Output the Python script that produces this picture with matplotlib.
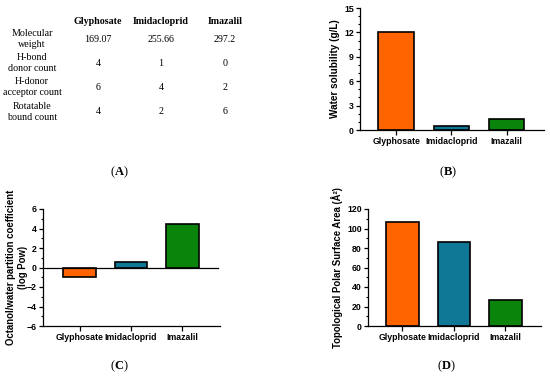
import matplotlib
matplotlib.use("Agg")
import matplotlib.pyplot as plt
from matplotlib.ticker import MultipleLocator

plt.rcParams['mathtext.fontset'] = 'custom'
plt.rcParams['mathtext.rm'] = 'Liberation Serif'
plt.rcParams['mathtext.bf'] = 'Liberation Serif:bold'

compounds = ["Glyphosate", "Imidacloprid", "Imazalil"]
colors = ["#FF6400", "#0E7896", "#0A840A"]

table_rows = ["Molecular\nweight", "H-bond\ndonor count", "H-donor\nacceptor count", "Rotatable\nbound count"]
table_values = [["169.07", "255.66", "297.2"],
                ["4", "1", "0"],
                ["6", "4", "2"],
                ["4", "2", "6"]]

water_solubility = [12.0, 0.5, 1.35]
log_pow = [-1.0, 0.55, 4.5]
tpsa = [106.6, 86.0, 26.4]

W, H = 550, 377
fig = plt.figure(figsize=(W / 100, H / 100), dpi=100)

def px_axes(x0, y0, x1, y1):
    return fig.add_axes([x0 / W, 1 - y1 / H, (x1 - x0) / W, (y1 - y0) / H])

sans = 'Liberation Sans'
serif = 'Liberation Serif'

def style(ax, ylabel, labelsize=7.0, labelpad=3):
    for s in ['top', 'right']:
        ax.spines[s].set_visible(False)
    for s in ['left', 'bottom']:
        ax.spines[s].set_linewidth(0.9)
    ax.tick_params(axis='both', which='major', length=3, width=0.9, labelsize=6.3, pad=1.5)
    ax.tick_params(axis='y', which='minor', length=1.8, width=0.8)
    ax.tick_params(axis='x', which='major', length=3.5)
    ax.set_xticks(range(len(compounds)))
    ax.set_xticklabels(compounds, fontfamily=sans, fontweight='bold')
    for lab in ax.get_yticklabels():
        lab.set_fontfamily(sans)
        lab.set_fontweight('bold')
    ax.set_ylabel(ylabel, fontfamily=sans, fontweight='bold', fontsize=labelsize, labelpad=labelpad)

# Panel A: table
hx = [98, 161, 225]
for x, c in zip(hx, compounds):
    fig.text(x / W, 1 - 21 / H, c, ha='center', va='center', fontfamily=serif,
             fontweight='bold', fontsize=7.2)
row_y = [39, 63, 87, 112]
for y, lab, vals in zip(row_y, table_rows, table_values):
    fig.text(32 / W, 1 - y / H, lab, ha='center', va='center', fontfamily=serif,
             fontsize=7.2, linespacing=1.25)
    for x, v in zip(hx, vals):
        fig.text(x / W, 1 - y / H, v, ha='center', va='center', fontfamily=serif, fontsize=7.2)

# Panel B
axB = px_axes(360, 8, 544, 130)
axB.bar(range(3), water_solubility, width=0.65, color=colors, edgecolor='black', linewidth=1.2)
axB.set_ylim(0, 15)
axB.set_xlim(-0.66, 2.68)
axB.yaxis.set_major_locator(MultipleLocator(3))
axB.yaxis.set_minor_locator(MultipleLocator(1))
style(axB, "Water solubility (g/L)", labelsize=7.2)

# Panel C
axC = px_axes(43, 209, 220, 326)
axC.bar(range(3), log_pow, width=0.64, color=colors, edgecolor='black', linewidth=1.2, zorder=3)
axC.axhline(0, color='black', linewidth=0.9, zorder=4, xmax=0.99)
axC.set_ylim(-6, 6)
axC.set_xlim(-0.71, 2.73)
axC.yaxis.set_major_locator(MultipleLocator(2))
axC.yaxis.set_minor_locator(MultipleLocator(1))
style(axC, "Octanol/water partition coefficient\n(log Pow)", labelsize=6.9, labelpad=2)
axC.yaxis.label.set_linespacing(1.25)
axC.yaxis.set_label_coords(-0.085, 0.5)

# Panel D
axD = px_axes(368, 209, 541, 326)
axD.bar(range(3), tpsa, width=0.64, color=colors, edgecolor='black', linewidth=1.2)
axD.set_ylim(0, 120)
axD.set_xlim(-0.67, 2.69)
axD.yaxis.set_major_locator(MultipleLocator(20))
axD.yaxis.set_minor_locator(MultipleLocator(10))
style(axD, "Topological Polar Surface Area (Å²)", labelsize=6.9)

# Panel labels
for x, y, l in [(119, 172, 'A'), (448, 172, 'B'), (119, 366, 'C'), (446, 366, 'D')]:
    fig.text(x / W, 1 - y / H, r'($\mathbf{%s}$)' % l, ha='center', va='center',
             fontfamily=serif, fontsize=9)

fig.savefig("out.png", dpi=100)
